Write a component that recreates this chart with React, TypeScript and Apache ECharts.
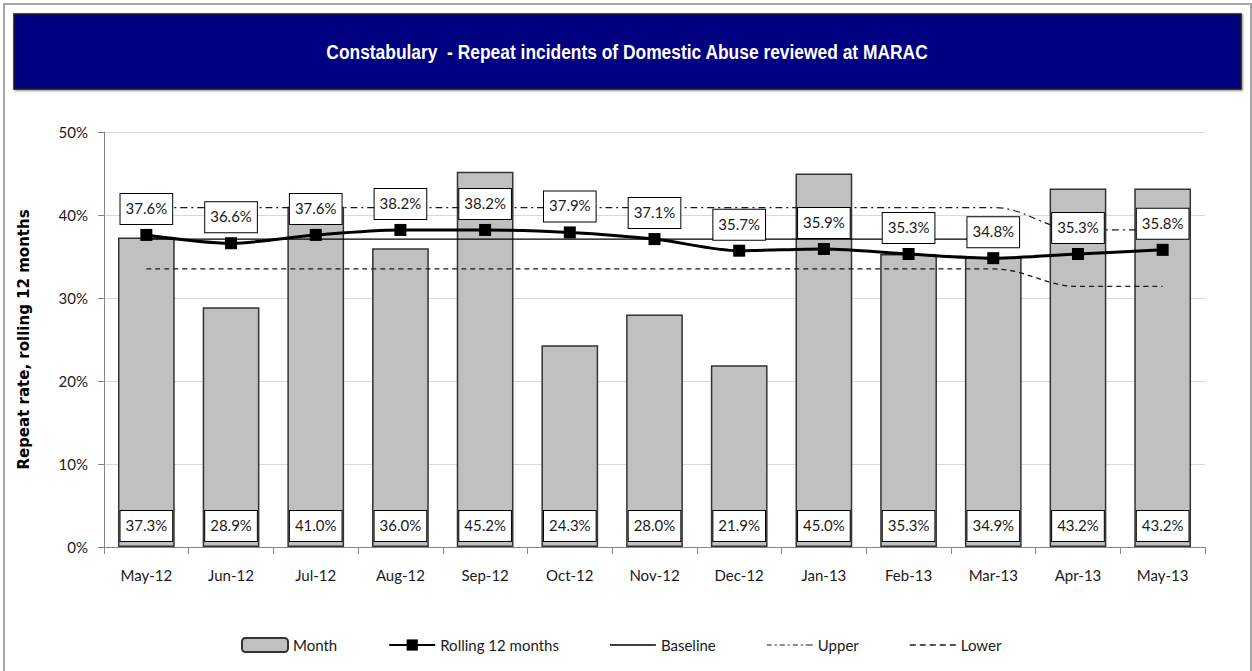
import React, { useEffect, useRef } from "react";
import * as echarts from "echarts";

const months = ["May-12", "Jun-12", "Jul-12", "Aug-12", "Sep-12", "Oct-12", "Nov-12", "Dec-12", "Jan-13", "Feb-13", "Mar-13", "Apr-13", "May-13"];
const monthValues = [37.3, 28.9, 41.0, 36.0, 45.2, 24.3, 28.0, 21.9, 45.0, 35.3, 34.9, 43.2, 43.2];
const rollingValues = [37.6, 36.6, 37.6, 38.2, 38.2, 37.9, 37.1, 35.7, 35.9, 35.3, 34.8, 35.3, 35.8];
const baselineValues: (number | string)[] = [37.1, 37.1, 37.1, 37.1, 37.1, 37.1, 37.1, 37.1, 37.1, 37.1, 37.1, "-", "-"];
const upperValues = [40.9, 40.9, 40.9, 40.9, 40.9, 40.9, 40.9, 40.9, 40.9, 40.9, 40.9, 38.2, 38.2];
const lowerValues = [33.5, 33.5, 33.5, 33.5, 33.5, 33.5, 33.5, 33.5, 33.5, 33.5, 33.5, 31.4, 31.4];
const yTicks = [0, 10, 20, 30, 40, 50];

const TITLE = "Constabulary  - Repeat incidents of Domestic Abuse reviewed at MARAC";
const FONT = "Lato, 'Open Sans', sans-serif";

// legend icons (line patterns drawn as thin filled shapes)
const ICON_SOLID = "path://M0,0h46v1.6h-46z";
const ICON_DASHDOT =
  "path://M0,0h5v1.2h-5z M8,0h2v1.2h-2z M13,0h5v1.2h-5z M21,0h2v1.2h-2z M26,0h5v1.2h-5z M34,0h2v1.2h-2z M39,0h5v1.2h-5z M44,0h2v1.2h-2z";
const ICON_DASH =
  "path://M0,0h6v1.4h-6z M10,0h6v1.4h-6z M20,0h6v1.4h-6z M30,0h6v1.4h-6z M40,0h6v1.4h-6z";

const boxLabel = {
  show: true,
  formatter: (p: any) => Number(p.value).toFixed(1) + "%",
  backgroundColor: "#ffffff",
  borderColor: "#000000",
  borderWidth: 1,
  padding: [6, 5, 8, 5],
  lineHeight: 16,
  color: "#1a1a1a",
  fontFamily: FONT,
  fontSize: 15,
};

export default function App() {
  const ref = useRef<HTMLDivElement>(null);
  useEffect(() => {
    if (!ref.current) return;
    const chart = echarts.init(ref.current, null, { renderer: "svg" });
    chart.setOption({
      animation: false,
      backgroundColor: "#ffffff",
      graphic: [
        {
          type: "rect",
          shape: { x: 4, y: 4, width: 1247, height: 700 },
          style: { fill: "none", stroke: "#a6a6a6", lineWidth: 2 },
          silent: true,
        },
        {
          type: "rect",
          shape: { x: 14, y: 14, width: 1227, height: 75 },
          style: { fill: "#000080", stroke: "#1a1a1a", lineWidth: 1.5, shadowColor: "rgba(0,0,0,0.5)", shadowBlur: 2, shadowOffsetX: 1, shadowOffsetY: 1 },
          silent: true,
        },
        {
          type: "text",
          x: 627,
          y: 52,
          scaleX: 0.87,
          style: {
            text: TITLE,
            fill: "#ffffff",
            font: "bold 20px 'Liberation Sans', Arial, sans-serif",
            textAlign: "center",
            textVerticalAlign: "middle",
          },
          silent: true,
        },
      ],
      grid: { left: 104, right: 47, top: 132, bottom: 124 },
      legend: {
        left: 236,
        top: 632,
        itemWidth: 46,
        itemHeight: 14,
        itemGap: 51,
        textStyle: { fontFamily: FONT, fontSize: 15, color: "#1a1a1a" },
        data: [
          { name: "Month" },
          { name: "Rolling 12 months" },
          { name: "Baseline", icon: ICON_SOLID },
          { name: "Upper", icon: ICON_DASHDOT },
          { name: "Lower", icon: ICON_DASH },
        ],
      },
      xAxis: {
        type: "category",
        data: months,
        boundaryGap: true,
        axisLine: { lineStyle: { color: "#868686", width: 1 } },
        axisTick: { show: true, length: 7, lineStyle: { color: "#868686" } },
        axisLabel: { fontFamily: FONT, fontSize: 15, color: "#1a1a1a", margin: 20 },
      },
      yAxis: {
        type: "value",
        min: 0,
        max: 50,
        interval: 10,
        name: "Repeat rate, rolling 12 months",
        nameLocation: "middle",
        nameGap: 73,
        nameTextStyle: { fontFamily: "'DejaVu Sans', sans-serif", fontSize: 15, fontWeight: "bold", color: "#000000" },
        axisLine: { show: true, lineStyle: { color: "#868686" } },
        axisTick: { show: true, length: 6, lineStyle: { color: "#868686" } },
        axisLabel: {
          fontFamily: FONT,
          fontSize: 15,
          color: "#1a1a1a",
          margin: 16,
          formatter: (v: number) => (yTicks.includes(v) ? v + "%" : ""),
        },
        splitLine: { show: true, lineStyle: { color: "#d9d9d9", width: 1 } },
      },
      series: [
        {
          name: "Month",
          type: "bar",
          data: monthValues,
          barCategoryGap: "33%",
          itemStyle: { color: "#c0c0c0", borderColor: "#333333", borderWidth: 1.5 },
          label: { ...boxLabel, position: "insideBottom", distance: 6 },
          z: 1,
        },
        {
          name: "Baseline",
          type: "line",
          data: baselineValues,
          symbol: "none",
          lineStyle: { color: "#000000", width: 1.3, type: "solid" },
          itemStyle: { color: "#000000" },
          z: 2,
        },
        {
          name: "Upper",
          type: "line",
          data: upperValues,
          symbol: "none",
          smooth: 0.4,
          smoothMonotone: "x",
          lineStyle: { color: "#1a1a1a", width: 1.2, type: [7, 4, 2, 4] },
          itemStyle: { color: "#1a1a1a" },
          z: 2,
        },
        {
          name: "Lower",
          type: "line",
          data: lowerValues,
          symbol: "none",
          smooth: 0.4,
          smoothMonotone: "x",
          lineStyle: { color: "#1a1a1a", width: 1.3, type: [5, 4] },
          itemStyle: { color: "#1a1a1a" },
          z: 2,
        },
        {
          name: "Rolling 12 months",
          type: "line",
          data: rollingValues,
          symbol: "rect",
          symbolSize: 12,
          smooth: 0.3,
          lineStyle: { color: "#000000", width: 3 },
          itemStyle: { color: "#000000" },
          label: { ...boxLabel, position: "top", distance: 5 },
          z: 5,
        },
      ],
    });
    return () => chart.dispose();
  }, []);
  return (
    <div
      ref={ref}
      style={{ position: "absolute", left: 0, top: 0, width: 1252, height: 671 }}
    />
  );
}
